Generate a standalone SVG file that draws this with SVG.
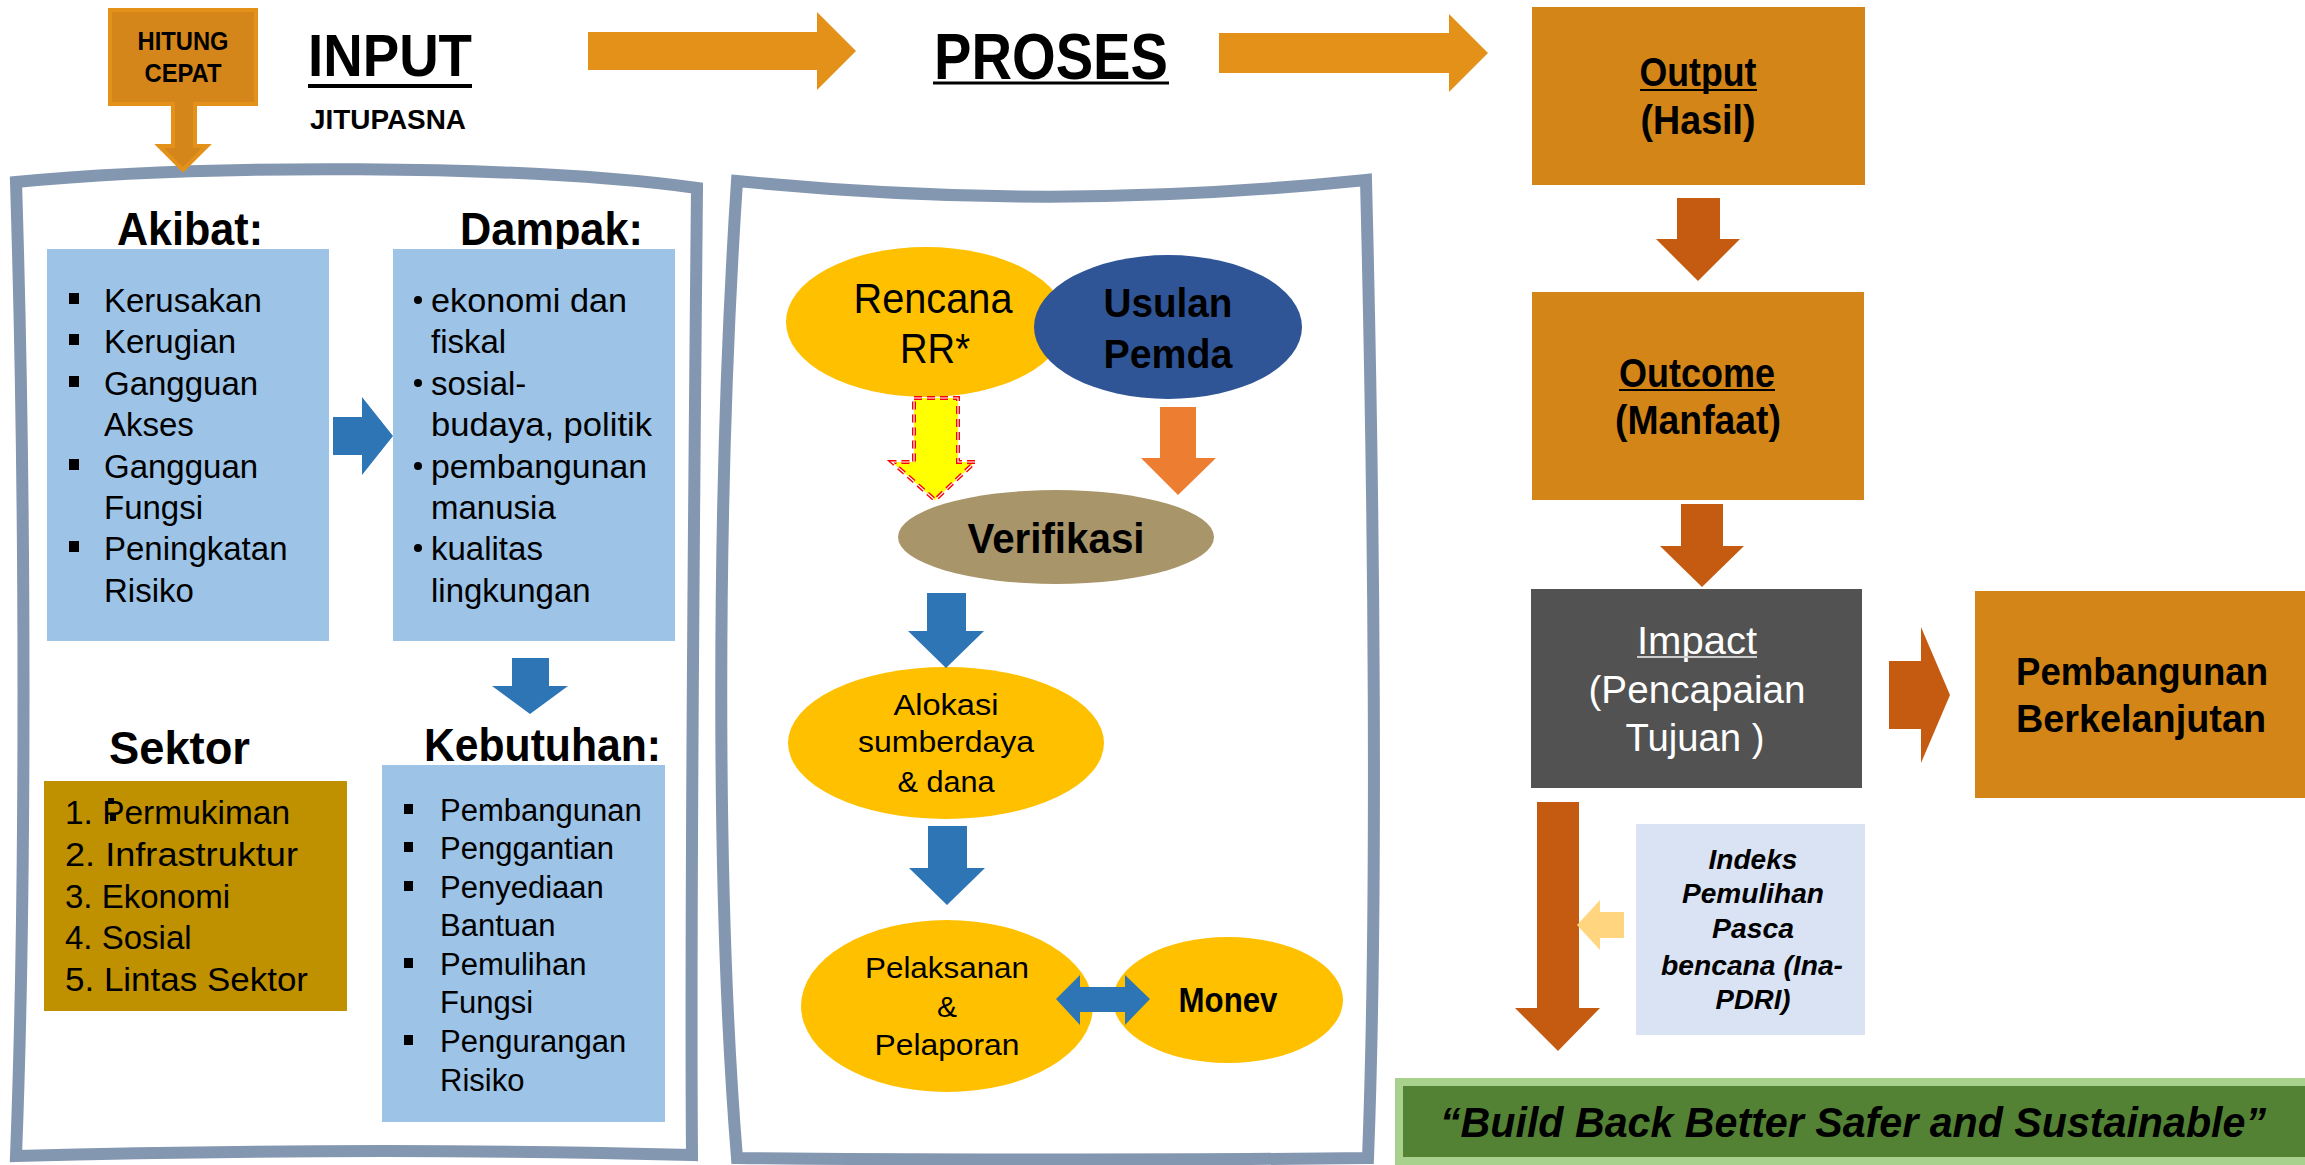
<svg xmlns="http://www.w3.org/2000/svg" width="2305" height="1165" viewBox="0 0 2305 1165">
<style>
text{font-family:"Liberation Sans",Arial,sans-serif;fill:#000}
.b{font-weight:bold}
.bi{font-weight:bold;font-style:italic}
.c{text-anchor:middle}
.w{fill:#fff}
.frame{fill:#fff;stroke:#8497B0;stroke-width:12;stroke-linejoin:miter}
.lb{fill:#9DC3E6}
.or{fill:#D38617}
.yel{fill:#FFC000}
.arO{fill:#E39119}
.arB{fill:#2E75B6}
.arR{fill:#C55A11}
.l33{font-size:33px}
.l31{font-size:31px}
.l30{font-size:30px}
</style>
<rect width="2305" height="1165" fill="#fff"/>

<g id="frame-input"><path class="frame" d="M16,182 C200,164 520,164 697,188 C694,500 690,900 692,1155 C500,1150 250,1150 16,1156 C26,900 26,500 16,182 Z"/></g>
<g id="frame-proses"><path class="frame" d="M737,181 C950,202 1150,202 1366,180 C1374,500 1378,900 1368,1158 C1200,1160 900,1160 737,1158 C716,900 716,500 737,181 Z"/></g>

<g id="hitung-cepat">
<path d="M110,10 H256 V104 H195 V146 H207 L183,170 L159,146 H173 V104 H110 Z" fill="#D4861A" stroke="#E39119" stroke-width="4"/>
<text class="b c" x="183" y="50" font-size="25" textLength="91" lengthAdjust="spacingAndGlyphs">HITUNG</text>
<text class="b c" x="183" y="82" font-size="25" textLength="77" lengthAdjust="spacingAndGlyphs">CEPAT</text>
</g>

<g id="title-input">
<text class="b" x="308" y="76" font-size="60" textLength="164" lengthAdjust="spacingAndGlyphs">INPUT</text>
<line x1="308" y1="86" x2="472" y2="86" stroke="#000" stroke-width="4"/>
<text class="b" x="310" y="129" font-size="28" textLength="156" lengthAdjust="spacingAndGlyphs">JITUPASNA</text>
</g>

<g id="title-proses">
<text class="b" x="934" y="79" font-size="64" textLength="234" lengthAdjust="spacingAndGlyphs">PROSES</text>
<line x1="933" y1="83" x2="1169" y2="83" stroke="#000" stroke-width="3"/>
</g>

<g id="akibat">
<text class="b" x="117" y="245" font-size="46" textLength="146" lengthAdjust="spacingAndGlyphs">Akibat:</text>
<rect class="lb" x="47" y="249" width="282" height="392"/>
<g fill="#000"><rect x="69" y="293" width="10" height="11"/><rect x="69" y="334" width="10" height="11"/><rect x="69" y="376" width="10" height="11"/><rect x="69" y="459" width="10" height="11"/><rect x="69" y="541" width="10" height="11"/></g>
<g class="l33">
<text x="104" y="312">Kerusakan</text>
<text x="104" y="353">Kerugian</text>
<text x="104" y="395">Gangguan</text>
<text x="104" y="436">Akses</text>
<text x="104" y="478">Gangguan</text>
<text x="104" y="519">Fungsi</text>
<text x="104" y="560">Peningkatan</text>
<text x="104" y="602">Risiko</text>
</g>
</g>

<g id="dampak">
<text class="b" x="460" y="245" font-size="46" textLength="183" lengthAdjust="spacingAndGlyphs">Dampak:</text>
<rect class="lb" x="393" y="249" width="282" height="392"/>
<g fill="#000"><circle cx="418" cy="300" r="4"/><circle cx="418" cy="383" r="4"/><circle cx="418" cy="466" r="4"/><circle cx="418" cy="548" r="4"/></g>
<g class="l33">
<text x="431" y="312" textLength="196" lengthAdjust="spacingAndGlyphs">ekonomi dan</text>
<text x="431" y="353">fiskal</text>
<text x="431" y="395">sosial-</text>
<text x="431" y="436" textLength="221" lengthAdjust="spacingAndGlyphs">budaya, politik</text>
<text x="431" y="478" textLength="216" lengthAdjust="spacingAndGlyphs">pembangunan</text>
<text x="431" y="519">manusia</text>
<text x="431" y="560">kualitas</text>
<text x="431" y="602">lingkungan</text>
</g>
</g>

<g id="sektor">
<text class="b" x="109" y="764" font-size="47" textLength="141" lengthAdjust="spacingAndGlyphs">Sektor</text>
<rect x="44" y="781" width="303" height="230" fill="#BF9000"/>
<g class="l33">
<text x="65" y="824" textLength="225" lengthAdjust="spacingAndGlyphs">1. Permukiman</text>
<text x="65" y="866" textLength="233" lengthAdjust="spacingAndGlyphs">2. Infrastruktur</text>
<text x="65" y="908">3. Ekonomi</text>
<text x="65" y="949">4. Sosial</text>
<text x="65" y="991" textLength="243" lengthAdjust="spacingAndGlyphs">5. Lintas Sektor</text>
</g>
<rect x="108" y="798" width="6" height="6" fill="#000"/>
<rect x="110" y="814" width="6" height="7" fill="#000"/>
</g>

<g id="kebutuhan">
<text class="b" x="424" y="761" font-size="47" textLength="237" lengthAdjust="spacingAndGlyphs">Kebutuhan:</text>
<rect class="lb" x="382" y="765" width="283" height="357"/>
<g fill="#000"><rect x="404" y="804" width="9" height="10"/><rect x="404" y="842" width="9" height="10"/><rect x="404" y="881" width="9" height="10"/><rect x="404" y="958" width="9" height="10"/><rect x="404" y="1035" width="9" height="10"/></g>
<g class="l31">
<text x="440" y="821">Pembangunan</text>
<text x="440" y="859">Penggantian</text>
<text x="440" y="898">Penyediaan</text>
<text x="440" y="936">Bantuan</text>
<text x="440" y="975">Pemulihan</text>
<text x="440" y="1013">Fungsi</text>
<text x="440" y="1052">Pengurangan</text>
<text x="440" y="1091">Risiko</text>
</g>
</g>

<g id="rencana-rr">
<ellipse class="yel" cx="926" cy="322" rx="140" ry="75"/>
<text class="c" x="933" y="313" font-size="42" textLength="159" lengthAdjust="spacingAndGlyphs">Rencana</text>
<text class="c" x="935" y="363" font-size="42" textLength="70" lengthAdjust="spacingAndGlyphs">RR*</text>
</g>
<g id="usulan-pemda">
<ellipse cx="1168" cy="327" rx="134" ry="72" fill="#2F5597"/>
<text class="b c" x="1168" y="317" font-size="41" textLength="129" lengthAdjust="spacingAndGlyphs">Usulan</text>
<text class="b c" x="1168" y="368" font-size="41" textLength="129" lengthAdjust="spacingAndGlyphs">Pemda</text>
</g>
<g id="verifikasi">
<ellipse cx="1056" cy="537" rx="158" ry="47" fill="#A9956A"/>
<text class="b c" x="1056" y="553" font-size="42" textLength="177" lengthAdjust="spacingAndGlyphs">Verifikasi</text>
</g>
<g id="alokasi">
<ellipse class="yel" cx="946" cy="743" rx="158" ry="76"/>
<g class="l30">
<text class="c" x="946" y="715" textLength="105" lengthAdjust="spacingAndGlyphs">Alokasi</text>
<text class="c" x="946" y="752" textLength="176" lengthAdjust="spacingAndGlyphs">sumberdaya</text>
<text class="c" x="946" y="792" textLength="97" lengthAdjust="spacingAndGlyphs">&amp; dana</text>
</g>
</g>
<g id="pelaksanan">
<ellipse class="yel" cx="947" cy="1006" rx="146" ry="86"/>
<g class="l30">
<text class="c" x="947" y="978" textLength="164" lengthAdjust="spacingAndGlyphs">Pelaksanan</text>
<text class="c" x="947" y="1017">&amp;</text>
<text class="c" x="947" y="1055" textLength="145" lengthAdjust="spacingAndGlyphs">Pelaporan</text>
</g>
</g>
<g id="monev">
<ellipse class="yel" cx="1228" cy="1000" rx="115" ry="63"/>
<text class="b c" x="1228" y="1012" font-size="35" textLength="99" lengthAdjust="spacingAndGlyphs">Monev</text>
</g>

<g id="output">
<rect class="or" x="1532" y="7" width="333" height="178"/>
<text class="b c" x="1698" y="86" font-size="40" textLength="117" lengthAdjust="spacingAndGlyphs">Output</text>
<line x1="1640" y1="90" x2="1757" y2="90" stroke="#000" stroke-width="2"/>
<text class="b c" x="1698" y="134" font-size="40" textLength="115" lengthAdjust="spacingAndGlyphs">(Hasil)</text>
</g>
<g id="outcome">
<rect class="or" x="1532" y="292" width="332" height="208"/>
<text class="b c" x="1697" y="387" font-size="40" textLength="156" lengthAdjust="spacingAndGlyphs">Outcome</text>
<line x1="1619" y1="390" x2="1775" y2="390" stroke="#000" stroke-width="2"/>
<text class="b c" x="1698" y="434" font-size="40" textLength="166" lengthAdjust="spacingAndGlyphs">(Manfaat)</text>
</g>
<g id="impact">
<rect x="1531" y="589" width="331" height="199" fill="#525252"/>
<text class="w c" x="1697" y="654" font-size="38" textLength="120" lengthAdjust="spacingAndGlyphs">Impact</text>
<line x1="1637" y1="657" x2="1757" y2="657" stroke="#ccc" stroke-width="2"/>
<text class="w c" x="1697" y="703" font-size="38" textLength="217" lengthAdjust="spacingAndGlyphs">(Pencapaian</text>
<text class="w c" x="1695" y="751" font-size="38" textLength="139" lengthAdjust="spacingAndGlyphs">Tujuan )</text>
</g>
<g id="pembangunan-berkelanjutan">
<rect class="or" x="1975" y="591" width="330" height="207"/>
<text class="b c" x="2142" y="685" font-size="38" textLength="252" lengthAdjust="spacingAndGlyphs">Pembangunan</text>
<text class="b c" x="2141" y="732" font-size="38" textLength="250" lengthAdjust="spacingAndGlyphs">Berkelanjutan</text>
</g>
<g id="indeks">
<rect x="1636" y="824" width="229" height="211" fill="#DAE3F3"/>
<g font-size="27">
<text class="bi c" x="1753" y="869" textLength="89" lengthAdjust="spacingAndGlyphs">Indeks</text>
<text class="bi c" x="1753" y="903" textLength="142" lengthAdjust="spacingAndGlyphs">Pemulihan</text>
<text class="bi c" x="1753" y="938" textLength="82" lengthAdjust="spacingAndGlyphs">Pasca</text>
<text class="bi c" x="1752" y="975" textLength="182" lengthAdjust="spacingAndGlyphs">bencana (Ina-</text>
<text class="bi c" x="1753" y="1009" textLength="75" lengthAdjust="spacingAndGlyphs">PDRI)</text>
</g>
</g>
<g id="bbb-banner">
<rect x="1399" y="1082" width="912" height="79" fill="#548235" stroke="#A9D18E" stroke-width="8"/>
<text class="bi" x="1440" y="1137" font-size="42" textLength="826" lengthAdjust="spacingAndGlyphs">“Build Back Better Safer and Sustainable”</text>
</g>

<g id="connectors">
<polygon class="arO" points="588,32 817,32 817,12 856,51 817,90 817,70 588,70"/>
<polygon class="arO" points="1219,33 1449,33 1449,14 1488,53 1449,92 1449,73 1219,73"/>
<polygon class="arB" points="333,417 362,417 362,397 393,436 362,475 362,455 333,455"/>
<polygon class="arB" points="512,658 549,658 549,686 568,686 530,714 492,686 512,686"/>
<g>
<polygon points="914,398 958,398 958,462 975,462 935,500 892,462 914,462" fill="#FFFF00" stroke="#FF0000" stroke-width="4" stroke-dasharray="8 5"/>
<polygon points="914,398 958,398 958,462 975,462 935,500 892,462 914,462" fill="none" stroke="#fff" stroke-width="1.2" stroke-dasharray="8 5"/>
</g>
<polygon fill="#ED7D31" points="1160,407 1196,407 1196,458 1216,458 1178,495 1141,458 1160,458"/>
<polygon class="arB" points="927,593 966,593 966,631 984,631 946,668 908,631 927,631"/>
<polygon class="arB" points="928,826 967,826 967,868 985,868 947,905 909,868 928,868"/>
<polygon class="arB" points="1056,999 1080,975 1080,987 1125,987 1125,975 1150,999 1125,1025 1125,1012 1080,1012 1080,1025"/>
<polygon class="arR" points="1677,198 1720,198 1720,239 1740,239 1698,281 1656,239 1677,239"/>
<polygon class="arR" points="1681,504 1723,504 1723,546 1744,546 1702,587 1660,546 1681,546"/>
<polygon class="arR" points="1889,661 1921,661 1921,627 1950,695 1921,763 1921,729 1889,729"/>
<polygon class="arR" points="1537,802 1579,802 1579,1008 1600,1008 1558,1051 1515,1008 1537,1008"/>
<polygon fill="#FFD57F" points="1624,912 1600,912 1600,900 1577,925 1600,950 1600,938 1624,938"/>
</g>
</svg>
